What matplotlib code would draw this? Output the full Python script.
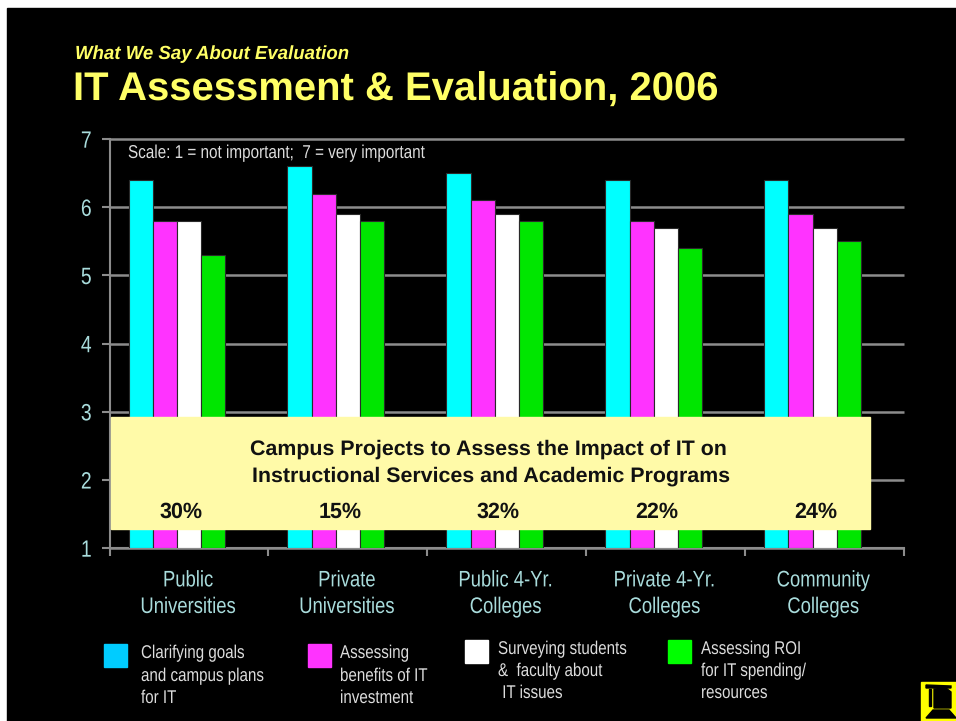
import matplotlib
matplotlib.use("Agg")
import matplotlib.pyplot as plt
from matplotlib.patches import Rectangle, Polygon
from matplotlib.patheffects import AbstractPathEffect
from matplotlib.transforms import Affine2D

W, H = 956, 721

categories = ["Public\nUniversities", "Private\nUniversities", "Public 4-Yr.\nColleges",
              "Private 4-Yr.\nColleges", "Community\nColleges"]
goals = [6.4, 6.6, 6.5, 6.4, 6.4]
benefits = [5.8, 6.2, 6.1, 5.8, 5.9]
surveying = [5.8, 5.9, 5.9, 5.7, 5.7]
roi = [5.3, 5.8, 5.8, 5.4, 5.5]
percents = ["30%", "15%", "32%", "22%", "24%"]
y_ticks = [1, 2, 3, 4, 5, 6, 7]

plt.rcParams["font.family"] = ["Liberation Sans", "DejaVu Sans"]
plt.rcParams["text.hinting"] = "no_hinting"


class Squeeze(AbstractPathEffect):
    # the reference uses Arial Narrow, so squeeze the glyphs sideways
    def __init__(self, sx=0.82, centered=False):
        super().__init__()
        self.sx = sx
        self.centered = centered

    def draw_path(self, renderer, gc, tpath, affine, rgbFace=None):
        shift = 0
        if self.centered:
            ext = tpath.get_extents()
            shift = (1 - self.sx) * (ext.x0 + ext.x1) / 2
        squeezed = Affine2D().scale(self.sx, 1).translate(shift, 0) + affine
        renderer.draw_path(gc, tpath, squeezed, rgbFace)


fig = plt.figure(figsize=(W / 100, H / 100), dpi=100, facecolor="white")

# overlay in pixel coordinates for the slide furniture
bg = fig.add_axes([0, 0, 1, 1], zorder=0)
bg.set_xlim(0, W)
bg.set_ylim(H, 0)
bg.axis("off")
bg.add_patch(Rectangle((7, 8), W - 7, H - 8, color="black"))

ax = fig.add_axes([109.5 / W, 1 - 548 / H, (904 - 109.5) / W, (548 - 139) / H], zorder=1)
ax.patch.set_alpha(0)
ax.set_xlim(0, 5)
ax.set_ylim(1, 7)

series = [goals, benefits, surveying, roi]
colors = ["#00ffff", "#ff33ff", "#ffffff", "#00e600"]
for j in range(4):
    xs = [i + 0.12 + j * 0.1525 for i in range(5)]
    ax.bar(xs, [v - 1 for v in series[j]], bottom=1, width=0.1525, align="edge",
           color=colors[j], edgecolor="#2a2a2a", linewidth=0.8, zorder=3)

grid_c = "#8c8c8c"
ax.set_yticks(y_ticks)
ax.yaxis.grid(True, color=grid_c, linewidth=1.8, zorder=1, clip_on=False, solid_capstyle="butt")
ax.set_axisbelow(True)
for s in ["top", "right"]:
    ax.spines[s].set_visible(False)
for s in ["left", "bottom"]:
    ax.spines[s].set_color(grid_c)
    ax.spines[s].set_linewidth(1.5)
ax.tick_params(axis="y", colors="#a9dcdc", length=6, width=1.5, color=grid_c, labelsize=17, pad=6)
ax.set_xticks(range(6))
ax.set_xticklabels([])
ax.tick_params(axis="x", length=6, width=1.5, color=grid_c)
ax.set_yticklabels([str(t) for t in y_ticks])
for lab in ax.get_yticklabels():
    lab.set_path_effects([Squeeze(0.82, True)])

for i, c in enumerate(categories):
    t = bg.text(188 + i * 158.8, 594, c, ha="center", va="center", color="#a9dcdc",
                fontsize=16.2, linespacing=1.38)
    t.set_path_effects([Squeeze(0.82, True)])

# headings
bg.text(75, 54, "What We Say About Evaluation", color="#ffff66", fontsize=13.45,
        style="italic", weight="bold", va="center")
bg.text(73, 90.5, "IT Assessment & Evaluation, 2006", color="#ffff66", fontsize=28.8,
        weight="bold", va="center")
t = bg.text(128, 158, "Scale: 1 = not important;  7 = very important", color="#dddddd",
            fontsize=13.4, va="baseline")
t.set_path_effects([Squeeze()])

# yellow panel over the bars
top = fig.add_axes([0, 0, 1, 1], zorder=2)
top.set_xlim(0, W)
top.set_ylim(H, 0)
top.axis("off")
top.add_patch(Rectangle((111, 417), 759, 112, color="#fffaa8"))
top.text(488, 449, "Campus Projects to Assess the Impact of IT on", ha="center", va="center",
         fontsize=15.4, weight="bold", color="#111111")
top.text(491, 476, "Instructional Services and Academic Programs", ha="center", va="center",
         fontsize=15.4, weight="bold", color="#111111")
for i, p in enumerate(percents):
    top.text(181.5 + i * 158.5, 512, p, ha="center", va="center", fontsize=15.5,
             weight="bold", color="#111111")

# legend
legend_items = [
    (104, 644, "#00ccff", 141, [658, 681, 703], ["Clarifying goals", "and campus plans", "for IT"]),
    (308, 644, "#ff33ff", 340, [658, 681, 703], ["Assessing", "benefits of IT", "investment"]),
    (465, 640, "#ffffff", 498, [654, 676, 698], ["Surveying students", "&  faculty about", " IT issues"]),
    (668, 640, "#00ff00", 701, [654, 676, 698], ["Assessing ROI", "for IT spending/", "resources"]),
]
for sx, sy, col, tx, tys, lines in legend_items:
    top.add_patch(Rectangle((sx, sy), 23, 23, color=col))
    for ty, line in zip(tys, lines):
        t = top.text(tx, ty, line, color="#dddddd", fontsize=13.3, va="baseline")
        t.set_path_effects([Squeeze()])

# small logo, bottom right
top.add_patch(Rectangle((921, 682), 35, 39, color="#ffff00"))
top.add_patch(Polygon([[926, 685], [951, 686], [951, 688], [926, 688]], closed=True, color="black"))
top.add_patch(Rectangle((929, 689), 2, 17, color="black"))
top.add_patch(Polygon([[934, 689], [946, 688], [951, 692], [951, 708], [934, 708]],
                      closed=True, color="black"))
top.add_patch(Polygon([[926, 718], [933, 710], [949, 710], [956, 718]], closed=True, color="black"))

fig.savefig("out.png", dpi=100, facecolor=fig.get_facecolor())
